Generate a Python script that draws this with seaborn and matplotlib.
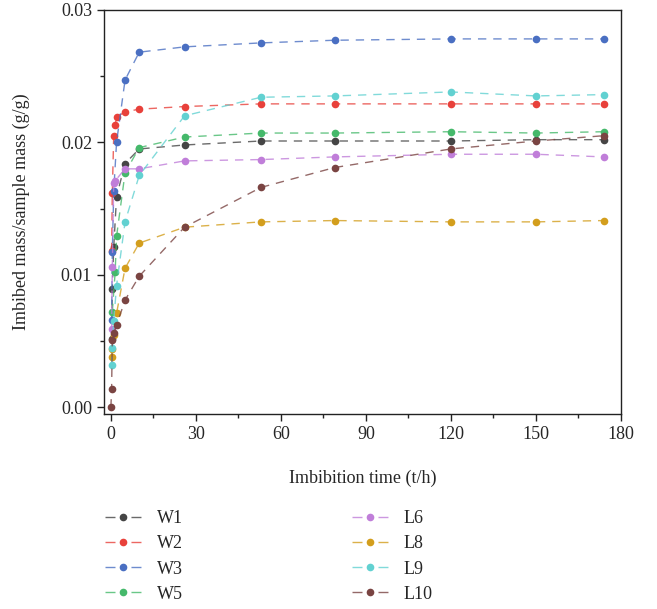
import matplotlib
matplotlib.use('Agg')
import matplotlib.pyplot as plt
from matplotlib.colors import to_rgba
from matplotlib.ticker import MultipleLocator, FormatStrFormatter
import pandas as pd
import seaborn as sns

# values (imbibed mass / sample mass, g/g)
w1_t = [0.25, 0.5, 1, 2, 5, 10, 26, 53, 79, 120, 150, 174]
w1_m = [0.0052, 0.0089, 0.0121, 0.0159, 0.0184, 0.0195, 0.0198, 0.0201, 0.0201, 0.0201, 0.0202, 0.0202]

w2_t = [0.25, 0.5, 1, 1.5, 2, 5, 10, 26, 53, 79, 120, 150, 174]
w2_m = [0.0118, 0.0162, 0.0205, 0.0213, 0.0219, 0.0223, 0.0225, 0.0227, 0.0229, 0.0229, 0.0229, 0.0229, 0.0229]

w3_t = [0.25, 0.5, 1, 2, 5, 10, 26, 53, 79, 120, 150, 174]
w3_m = [0.0066, 0.0117, 0.0163, 0.0200, 0.0247, 0.0268, 0.0272, 0.0275, 0.0277, 0.0278, 0.0278, 0.0278]

w5_t = [0.5, 1.5, 2, 5, 10, 26, 53, 79, 120, 150, 174]
w5_m = [0.0072, 0.0102, 0.0129, 0.0177, 0.0196, 0.0204, 0.0207, 0.0207, 0.0208, 0.0207, 0.0208]

l6_t = [0.25, 0.5, 1, 1.5, 5, 10, 26, 53, 79, 120, 150, 174]
l6_m = [0.0059, 0.0106, 0.0169, 0.0171, 0.0180, 0.0180, 0.0186, 0.0187, 0.0189, 0.0191, 0.0191, 0.0189]

l8_t = [0.25, 0.5, 1, 2, 5, 10, 26, 53, 79, 120, 150, 174]
l8_m = [0.0038, 0.0044, 0.0055, 0.0071, 0.0105, 0.0124, 0.0136, 0.0140, 0.0141, 0.0140, 0.0140, 0.0141]

l9_t = [0.25, 0.5, 1, 2, 5, 10, 26, 53, 79, 120, 150, 174]
l9_m = [0.0032, 0.0045, 0.0065, 0.0092, 0.0140, 0.0175, 0.0220, 0.0234, 0.0235, 0.0238, 0.0235, 0.0236]

l10_t = [0, 0.25, 0.5, 1, 2, 5, 10, 26, 53, 79, 120, 150, 174]
l10_m = [0.0000, 0.0014, 0.0051, 0.0056, 0.0062, 0.0081, 0.0099, 0.0136, 0.0166, 0.0181, 0.0195, 0.0201, 0.0205]

names = ['W1', 'W2', 'W3', 'W5', 'L6', 'L8', 'L9', 'L10']
times = [w1_t, w2_t, w3_t, w5_t, l6_t, l8_t, l9_t, l10_t]
masses = [w1_m, w2_m, w3_m, w5_m, l6_m, l8_m, l9_m, l10_m]
colors = ['#454545', '#e8413b', '#4a6fc2', '#45b96b',
          '#c07ed9', '#d39e1d', '#62d1d1', '#7a4442']

sns.set_theme(style='ticks')
plt.rcParams['font.family'] = ['Liberation Serif', 'DejaVu Serif']

fig = plt.figure(figsize=(6.57, 6.09), dpi=100)
ax = fig.add_axes([0.158, 0.320, 0.787, 0.664])

for name, t, m, c in zip(names, times, masses, colors):
    df = pd.DataFrame({'t': t, 'm': m})
    # line a bit lighter than the solid markers
    sns.lineplot(data=df, x='t', y='m', ax=ax, color=to_rgba(c, 0.8), marker='o',
                 markersize=5.5, markeredgewidth=0, markerfacecolor=c,
                 linestyle=(0, (6, 5)), linewidth=1.0, label=name, sort=False)

ax.set_xlim(-2.5, 180)
ax.set_ylim(-0.0005, 0.03)
ax.xaxis.set_major_locator(MultipleLocator(30))
ax.xaxis.set_minor_locator(MultipleLocator(15))
ax.yaxis.set_major_locator(MultipleLocator(0.01))
ax.yaxis.set_minor_locator(MultipleLocator(0.005))
ax.yaxis.set_major_formatter(FormatStrFormatter('%.2f'))
ax.tick_params(which='major', direction='out', length=5, width=1, labelsize=13, color='#222222')
ax.tick_params(which='minor', direction='out', length=3, width=1, color='#222222')
for s in ax.spines.values():
    s.set_color('#222222')
    s.set_linewidth(1.0)

ax.set_xlabel('Imbibition time (t/h)', fontsize=13, labelpad=19)
ax.set_ylabel('Imbibed mass/sample mass (g/g)', fontsize=13, labelpad=22)

leg = ax.legend(loc='upper left', bbox_to_anchor=(0.16, 0.162), bbox_transform=fig.transFigure,
                ncol=2, frameon=False, fontsize=13, handlelength=2.0, handletextpad=0.9,
                columnspacing=9.3, labelspacing=0.45, borderaxespad=0, borderpad=0)
for h in leg.get_lines():
    h.set_linestyle((0, (7.2, 11.5)))

fig.savefig('out.png', dpi=100)
